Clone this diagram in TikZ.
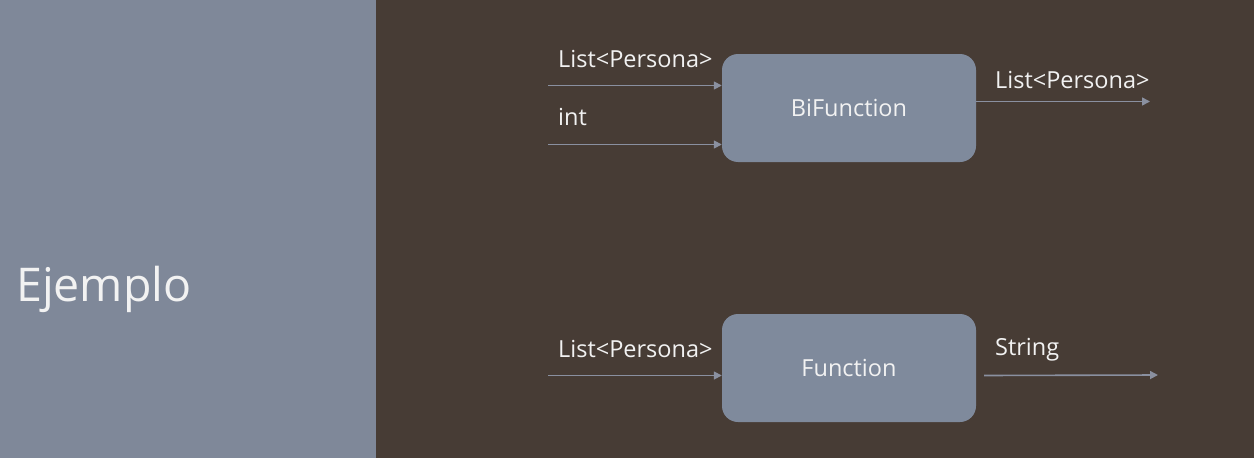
\documentclass[tikz,border=0pt]{standalone}
\usepackage{fontspec}
\setmainfont{Open Sans}
\usetikzlibrary{arrows.meta}
\definecolor{panel}{HTML}{7F8899}
\definecolor{bgdark}{HTML}{473C35}
\definecolor{boxfill}{HTML}{7F8A9C}
\definecolor{arrcol}{HTML}{8A90A0}
\definecolor{txt}{HTML}{F2F2F2}
\begin{document}
\begin{tikzpicture}[x=1pt,y=-1pt,
  box/.style={fill=boxfill,draw=none,rounded corners=16pt,minimum width=254pt,minimum height=108pt,inner sep=0pt,text=txt,font=\fontsize{23.5}{26}\selectfont},
  lbl/.style={anchor=base west,inner sep=0pt,text=txt,font=\fontsize{23.5}{26}\selectfont},
  arr/.style={draw=arrcol,line width=1.6pt,-{Triangle[length=8pt,width=8pt]}}]
\useasboundingbox (0,0) rectangle (1254,458);
\fill[bgdark] (0,0) rectangle (1254,458);
\fill[panel] (0,0) rectangle (376,458);
\node[lbl,font=\fontsize{46.5}{52}\selectfont] (title) at (16,301) {Ejemplo};
% BiFunction
\node[box] (b1) at (849,108) {BiFunction};
\coordinate (i1) at (548,85.5);
\coordinate (i2) at (548,144.5);
\coordinate (o1) at (1150,101.5);
\node[lbl] (l1) at (558,67) {List<Persona>};
\node[lbl] (l2) at (558,125) {int};
\node[lbl] (l3) at (995,88) {List<Persona>};
\draw[arr] (i1) -- (b1.west |- i1);
\draw[arr] (i2) -- (b1.west |- i2);
\draw[arr] (b1.east |- o1) -- (o1);
% Function
\node[box] (b2) at (849,368) {Function};
\coordinate (i3) at (548,375.5);
\coordinate (s2) at (984,375.5);
\coordinate (o2) at (1158,375);
\node[lbl] (l4) at (558,357) {List<Persona>};
\node[lbl] (l5) at (995,355) {String};
\draw[arr] (i3) -- (b2.west |- i3);
\draw[arr] (s2) -- (o2);
\end{tikzpicture}
\end{document}
